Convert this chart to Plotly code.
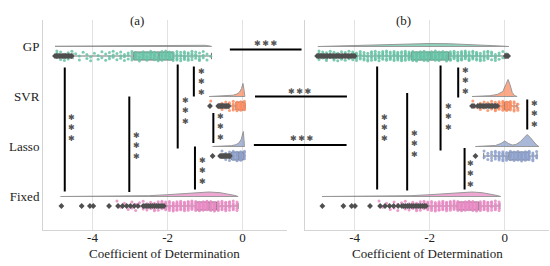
import plotly.graph_objects as go

rows = ["GP", "SVR", "Lasso", "Fixed"]
colors = ["#66c2a5", "#fc8d62", "#8da0cb", "#e78ac3"]
tick_vals = [-4, -2, 0]
tick_text = ["-4", "-2", "0"]
x_title = "Coefficient of Determination"
panel_titles = ["(a)", "(b)"]
sig_text = "***"

# box statistics, one value per row (GP, SVR, Lasso, Fixed)
a_q1 = [-2.90, -0.18, -0.29, -1.25]
a_med = [-2.23, -0.04, -0.10, -0.89]
a_q3 = [-1.85, 0.04, 0.02, -0.69]
a_lo = [-4.52, -0.36, -0.32, -2.07]
a_hi = [-0.83, 0.07, 0.04, -0.12]

b_q1 = [-2.49, 0.00, 0.11, -1.27]
b_med = [-1.98, 0.07, 0.37, -0.94]
b_q3 = [-1.49, 0.13, 0.64, -0.69]
b_lo = [-3.98, -0.16, -0.56, -2.07]
b_hi = [0.00, 0.33, 0.86, -0.13]

# outliers
a_out_gp = [-5.0, -4.96, -4.92, -4.88, -4.84, -4.8, -4.76, -4.72, -4.68, -4.64, -4.6, -4.56]
a_out_svr = [-0.87, -0.65, -0.62, -0.59, -0.56, -0.53, -0.5, -0.47, -0.44, -0.41, -0.38]
a_out_lasso = [-0.8, -0.6, -0.57, -0.54, -0.51, -0.48, -0.45, -0.42, -0.39, -0.36, -0.34]
a_out_fixed = [-4.83, -4.29, -4.07, -3.98, -3.56, -3.32, -3.2, -3.09, -2.99, -2.89, -2.79,
               -2.65, -2.6, -2.55, -2.5, -2.45, -2.4, -2.35, -2.3, -2.25, -2.2, -2.15, -2.1]
b_out_gp = [-5.0, -4.96, -4.92, -4.88, -4.84, -4.8, -4.76, -4.72, -4.68, -4.64, -4.6, -4.56,
            -4.52, -4.48, -4.44, -4.4, -4.36, -4.32, -4.28, -4.24, -4.2, -4.16, -4.12, -4.08,
            -4.04, -4.0, 0.03, 0.06, 0.09]
b_out_svr = [-0.87, -0.82, -0.72, -0.68, -0.64, -0.6, -0.56, -0.52, -0.48, -0.44, -0.4,
             -0.36, -0.32, -0.28, -0.24, -0.2]
b_out_lasso = [-0.78]
b_out_fixed = [-4.86, -4.3, -4.08, -3.99, -3.59, -3.32, -3.19, -3.07, -2.96, -2.84, -2.74,
               -2.69, -2.64, -2.59, -2.54, -2.49, -2.44, -2.39, -2.34, -2.29, -2.24, -2.19,
               -2.14, -2.1]

# cloud (density) outlines: x values and heights
a_cloud_gp_x = [-5.0, -4.0, -3.0, -2.0, -1.5, -1.0, -0.83]
a_cloud_gp_h = [0.3, 0.5, 0.8, 1.2, 1.5, 1.2, 0.2]
a_cloud_svr_x = [-0.89, -0.6, -0.4, -0.25, -0.15, -0.08, -0.03, 0.01, 0.04, 0.06]
a_cloud_svr_h = [0, 0.3, 0.7, 1.3, 2.5, 4.5, 8, 13, 6, 0]
a_cloud_lasso_x = [-0.8, -0.5, -0.3, -0.18, -0.1, -0.04, 0.0, 0.02, 0.05]
a_cloud_lasso_h = [0, 0.3, 0.8, 1.8, 3.5, 7, 12, 15, 0]
a_cloud_fixed_x = [-4.85, -4.0, -3.0, -2.5, -2.0, -1.5, -1.1, -0.9, -0.6, -0.4, -0.2, -0.12]
a_cloud_fixed_h = [0, 0.1, 0.3, 0.8, 1.8, 3.2, 4.3, 4.5, 3.8, 2.6, 1.0, 0]

b_cloud_gp_x = [-4.98, -4.5, -4.0, -3.5, -3.0, -2.5, -2.0, -1.5, -1.0, -0.5, -0.1, 0.11]
b_cloud_gp_h = [0, 0.4, 0.9, 1.5, 2.2, 2.8, 3.0, 2.8, 2.2, 1.3, 0.5, 0]
b_cloud_svr_x = [-0.87, -0.6, -0.4, -0.2, -0.05, 0.03, 0.09, 0.14, 0.2, 0.26, 0.33]
b_cloud_svr_h = [0, 0.3, 0.8, 2, 5, 12, 17, 12, 4, 1, 0]
b_cloud_lasso_x = [-0.78, -0.5, -0.25, -0.1, 0.0, 0.1, 0.2, 0.3, 0.42, 0.52, 0.6, 0.68, 0.76, 0.85, 0.91]
b_cloud_lasso_h = [0, 0.3, 1, 3, 5.5, 3, 1.5, 2, 5, 9, 12, 9, 5, 1.5, 0]
b_cloud_fixed_x = [-4.87, -4.0, -3.0, -2.5, -2.0, -1.5, -1.1, -0.87, -0.6, -0.4, -0.2, -0.11]
b_cloud_fixed_h = [0, 0.1, 0.3, 0.8, 1.8, 3.2, 4.3, 4.5, 3.8, 2.6, 1.0, 0]

# rain (strip) point counts per 0.1-wide bin, first bin centre given
a_strip_start = [-4.95, -0.85, -0.55, -3.35]
a_strip_counts = [
    [3, 3, 3, 3, 3, 1, 2, 1, 2, 2, 1, 2, 2, 2, 3, 3, 2, 3, 3, 3, 4,
     4, 4, 4, 4, 4, 5, 4, 5, 5, 5, 5, 6, 5, 6, 5, 5, 4, 4, 3, 2, 1],
    [1, 0, 1, 2, 3, 4, 6, 7, 8, 6],
    [2, 3, 4, 6, 7, 8, 5],
    [1, 1, 1, 2, 2, 2, 2, 3, 3, 4, 4, 5, 5, 7, 7, 8, 8, 8, 8, 8, 8, 8,
     8, 8, 8, 8, 8, 8, 8, 8, 7, 6, 5],
]
b_strip_start = [-4.95, -0.85, -0.55, -3.35]
b_strip_counts = [
    [4, 4, 4, 4, 4, 4, 4, 4, 4, 4, 5, 5, 5, 5, 6, 6, 6, 6, 6, 6,
     7, 7, 7, 7, 7, 7, 7, 7, 7, 7, 7, 7, 7, 7, 7, 7, 7, 7, 7, 7,
     6, 6, 6, 5, 5, 5, 4, 4, 3, 2, 1],
    [1, 1, 2, 3, 4, 5, 6, 7, 8, 9, 9, 6, 3],
    [2, 3, 4, 5, 6, 7, 6, 6, 6, 7, 8, 8, 7, 5, 3],
    [1, 1, 1, 2, 2, 2, 2, 3, 3, 4, 4, 5, 5, 7, 7, 8, 8, 8, 8, 8, 8, 8,
     8, 8, 8, 8, 8, 8, 8, 8, 7, 6, 5],
]

# significance bars: (x, y_from, y_to, star_x, star_y)
a_bars = [(-4.74, 0.42, 2.90, -4.55, 1.63), (-3.02, 1.00, 2.91, -2.83, 1.99),
          (-1.73, 0.36, 2.04, -1.52, 1.28), (-1.30, 0.40, 1.00, -1.10, 0.71),
          (-0.78, 1.33, 1.93, -0.59, 1.61), (-1.27, 2.00, 2.86, -1.08, 2.49)]
b_bars = [(-3.40, 0.40, 2.86, -3.21, 1.63), (-2.60, 0.93, 2.88, -2.40, 1.95),
          (-1.71, 0.38, 2.08, -1.49, 1.41), (-1.24, 0.42, 1.02, -1.05, 0.69),
          (0.60, 1.06, 1.66, 0.79, 1.35), (-1.07, 2.03, 2.86, -0.90, 2.55)]
# bars between panels, in panel (a) units: (x0, x1, y, star_x, star_y)
cross_bars = [(-0.34, 1.57, 0.06, 0.62, -0.07), (0.33, 2.78, 1.00, 1.53, 0.89),
              (0.30, 2.77, 1.97, 1.58, 1.84)]

XR = [-5.32, 1.18]
YR = [3.67, -0.53]
DOM_A = [0, 0.482]
DOM_B = [0.518, 1]
BOX_OFF = 0.19
JIT = 0.2
CLOUD_SCALE = 1 / 50.0
SERIF = "Liberation Serif"
STAR_FONT = dict(family="DejaVu Sans", size=8, color="#555555")
TXT_FONT = dict(family=SERIF, size=13, color="#222222")

# heavy asterisk glyphs for the significance labels
star_h = "\u2009".join(sig_text.replace("*", "✱"))
star_v = "<br>".join(sig_text.replace("*", "✱"))

fig = go.Figure()


def add_panel(xa, ya, q1, med, q3, lo, hi, outs, clouds, starts, counts):
    for i in range(4):
        cx, ch = clouds[i]
        px = list(cx) + list(cx[::-1])
        py = [i - h * CLOUD_SCALE for h in ch] + [i] * len(cx)
        fig.add_trace(go.Scatter(x=px, y=py, xaxis=xa, yaxis=ya, mode="lines",
                                 fill="toself", fillcolor=colors[i], opacity=0.75,
                                 line=dict(color="#777777", width=1)))
        # rain: bin centres repeated by count, spread across the band
        xs, ys = [], []
        n = 0
        for k, c in enumerate(counts[i]):
            for _ in range(c):
                xs.append(round(starts[i] + 0.1 * k, 3))
                ys.append(i + BOX_OFF + JIT * (((n * 0.618034) % 1.0) - 0.5))
                n += 1
        fig.add_trace(go.Scatter(x=xs, y=ys, xaxis=xa, yaxis=ya, mode="markers",
                                 marker=dict(color=colors[i], size=3, opacity=0.85)))
        fig.add_trace(go.Box(y=[i + BOX_OFF], q1=[q1[i]], median=[med[i]], q3=[q3[i]],
                             lowerfence=[lo[i]], upperfence=[hi[i]], orientation="h",
                             xaxis=xa, yaxis=ya, width=0.16, whiskerwidth=0.8,
                             fillcolor=colors[i], opacity=0.8, boxpoints=False,
                             line=dict(color="#555555", width=1)))
        fig.add_trace(go.Scatter(x=outs[i], y=[i + BOX_OFF] * len(outs[i]), xaxis=xa, yaxis=ya,
                                 mode="markers",
                                 marker=dict(symbol="diamond", size=4.5, color="#4f4f4f")))


add_panel("x", "y", a_q1, a_med, a_q3, a_lo, a_hi,
          [a_out_gp, a_out_svr, a_out_lasso, a_out_fixed],
          [(a_cloud_gp_x, a_cloud_gp_h), (a_cloud_svr_x, a_cloud_svr_h),
           (a_cloud_lasso_x, a_cloud_lasso_h), (a_cloud_fixed_x, a_cloud_fixed_h)],
          a_strip_start, a_strip_counts)
add_panel("x2", "y2", b_q1, b_med, b_q3, b_lo, b_hi,
          [b_out_gp, b_out_svr, b_out_lasso, b_out_fixed],
          [(b_cloud_gp_x, b_cloud_gp_h), (b_cloud_svr_x, b_cloud_svr_h),
           (b_cloud_lasso_x, b_cloud_lasso_h), (b_cloud_fixed_x, b_cloud_fixed_h)],
          b_strip_start, b_strip_counts)

shapes = []
annos = []
for bars, xr in ((a_bars, "x"), (b_bars, "x2")):
    for x, y0, y1, sx, sy in bars:
        shapes.append(dict(type="line", xref=xr, yref="y", x0=x, x1=x, y0=y0, y1=y1,
                           line=dict(color="black", width=2)))
        annos.append(dict(xref=xr, yref="y", x=sx, y=sy, text=star_v, showarrow=False,
                          xanchor="center", yanchor="middle", font=STAR_FONT))


def px_a(v):
    return DOM_A[0] + (v - XR[0]) / (XR[1] - XR[0]) * (DOM_A[1] - DOM_A[0])


def py_(u):
    return (YR[0] - u) / (YR[0] - YR[1])


for x0, x1, y, sx, sy in cross_bars:
    shapes.append(dict(type="line", xref="paper", yref="paper", x0=px_a(x0), x1=px_a(x1),
                       y0=py_(y), y1=py_(y), line=dict(color="black", width=2)))
    annos.append(dict(xref="paper", yref="paper", x=px_a(sx), y=py_(sy), text=star_h,
                      xanchor="center", yanchor="middle", showarrow=False, font=STAR_FONT))

for title, tx, dom in zip(panel_titles, [(137 - 43) / 506, (403 - 43) / 506], [DOM_A, DOM_B]):
    annos.append(dict(xref="paper", yref="paper", x=tx, y=1.0, xanchor="center",
                      yanchor="middle", text=title, showarrow=False, font=TXT_FONT))
    annos.append(dict(xref="paper", yref="paper", x=(dom[0] + dom[1]) / 2, y=-0.112,
                      xanchor="center", yanchor="middle", text=x_title, showarrow=False,
                      font=TXT_FONT))

ax_common = dict(range=XR, tickvals=tick_vals, ticktext=tick_text, showgrid=True,
                 gridcolor="#e2e2e2", gridwidth=1, zeroline=False, showline=True,
                 linecolor="#d4d4d4", linewidth=1, ticks="", automargin=False,
                 ticklabelstandoff=-5, tickfont=TXT_FONT)

fig.update_layout(
    width=550, height=266, margin=dict(l=43, r=1, t=20, b=36, autoexpand=False),
    paper_bgcolor="white", plot_bgcolor="white", showlegend=False,
    boxmode="overlay", hovermode=False,
    xaxis=dict(domain=DOM_A, anchor="y", **ax_common),
    xaxis2=dict(domain=DOM_B, anchor="y2", **ax_common),
    yaxis=dict(range=YR, tickvals=[0, 1, 2, 3], ticktext=rows, showgrid=False,
               zeroline=False, showline=True, linecolor="#d4d4d4", ticks="", automargin=False,
               tickfont=TXT_FONT),
    yaxis2=dict(range=YR, matches="y", anchor="x2", showticklabels=False, showgrid=False,
                zeroline=False, showline=True, linecolor="#d4d4d4", ticks="", automargin=False),
    shapes=shapes, annotations=annos,
)

fig.write_html("out.html", config={"displayModeBar": False},
               post_script="document.body.style.margin='0px';")
